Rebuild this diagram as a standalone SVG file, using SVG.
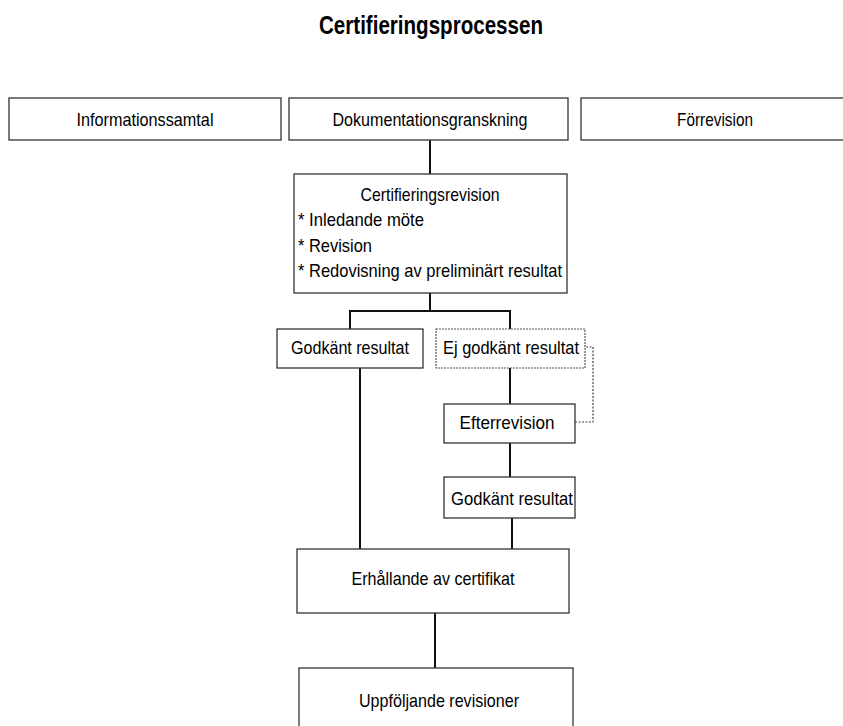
<svg xmlns="http://www.w3.org/2000/svg" width="843" height="726" viewBox="0 0 843 726">
<style>
.box{fill:#fff;stroke:#333;stroke-width:1.3}
.dbox{fill:#fff;stroke:#555;stroke-width:1.2;stroke-dasharray:2 1}
.t{font-family:"Liberation Sans",Arial,sans-serif;font-size:19px;fill:#000}
.c{text-anchor:middle}
.title{font-family:"Liberation Sans",Arial,sans-serif;font-size:25px;font-weight:bold;fill:#000;text-anchor:middle}
.ln{stroke:#111;stroke-width:2;fill:none}
.dl{stroke:#444;stroke-width:1.2;stroke-dasharray:2 1.5;fill:none}
</style>
<rect width="843" height="726" fill="#fff"/>
<text class="title" x="431" y="34" textLength="224" lengthAdjust="spacingAndGlyphs">Certifieringsprocessen</text>
<g id="connectors">
<path class="ln" d="M430 140V174"/>
<path class="ln" d="M430 293V311M350 311H510M350 310V329M510 310V329"/>
<path class="ln" d="M510 368V404M510 443V477M512 518V549M360 368V549"/>
<path class="ln" d="M435 613V668"/>
<path class="dl" d="M586 347H593V422H575"/>
</g>
<g id="informationssamtal">
<rect class="box" x="9" y="98" width="272" height="42"/>
<text class="t c" x="145" y="126" textLength="137" lengthAdjust="spacingAndGlyphs">Informationssamtal</text>
</g>
<g id="dokumentationsgranskning">
<rect class="box" x="289" y="98" width="279" height="42"/>
<text class="t c" x="430" y="126" textLength="195" lengthAdjust="spacingAndGlyphs">Dokumentationsgranskning</text>
</g>
<g id="forrevision">
<rect class="box" x="581" y="98" width="270" height="42"/>
<text class="t c" x="715" y="126" textLength="76" lengthAdjust="spacingAndGlyphs">Förrevision</text>
</g>
<g id="certifieringsrevision">
<rect class="box" x="294" y="174" width="273" height="119"/>
<text class="t c" x="430" y="201" textLength="139" lengthAdjust="spacingAndGlyphs">Certifieringsrevision</text>
<text class="t" x="298" y="226" textLength="126" lengthAdjust="spacingAndGlyphs">* Inledande möte</text>
<text class="t" x="298" y="252" textLength="74" lengthAdjust="spacingAndGlyphs">* Revision</text>
<text class="t" x="298" y="277" textLength="264" lengthAdjust="spacingAndGlyphs">* Redovisning av preliminärt resultat</text>
</g>
<g id="godkant1">
<rect class="box" x="277" y="329" width="146" height="39"/>
<text class="t c" x="350" y="354" textLength="118" lengthAdjust="spacingAndGlyphs">Godkänt resultat</text>
</g>
<g id="ejgodkant">
<rect class="dbox" x="436" y="329" width="149" height="39"/>
<text class="t c" x="511" y="354" textLength="136" lengthAdjust="spacingAndGlyphs">Ej godkänt resultat</text>
</g>
<g id="efterrevision">
<rect class="box" x="444" y="404" width="131" height="39"/>
<text class="t c" x="507" y="429" textLength="95" lengthAdjust="spacingAndGlyphs">Efterrevision</text>
</g>
<g id="godkant2">
<rect class="box" x="444" y="477" width="131" height="41"/>
<text class="t c" x="512" y="505" textLength="122" lengthAdjust="spacingAndGlyphs">Godkänt resultat</text>
</g>
<g id="erhallande">
<rect class="box" x="297" y="549" width="272" height="64"/>
<text class="t c" x="433" y="585" textLength="163" lengthAdjust="spacingAndGlyphs">Erhållande av certifikat</text>
</g>
<g id="uppfoljande">
<rect class="box" x="299" y="668" width="274" height="70"/>
<text class="t c" x="439" y="707" textLength="160" lengthAdjust="spacingAndGlyphs">Uppföljande revisioner</text>
</g>
</svg>
